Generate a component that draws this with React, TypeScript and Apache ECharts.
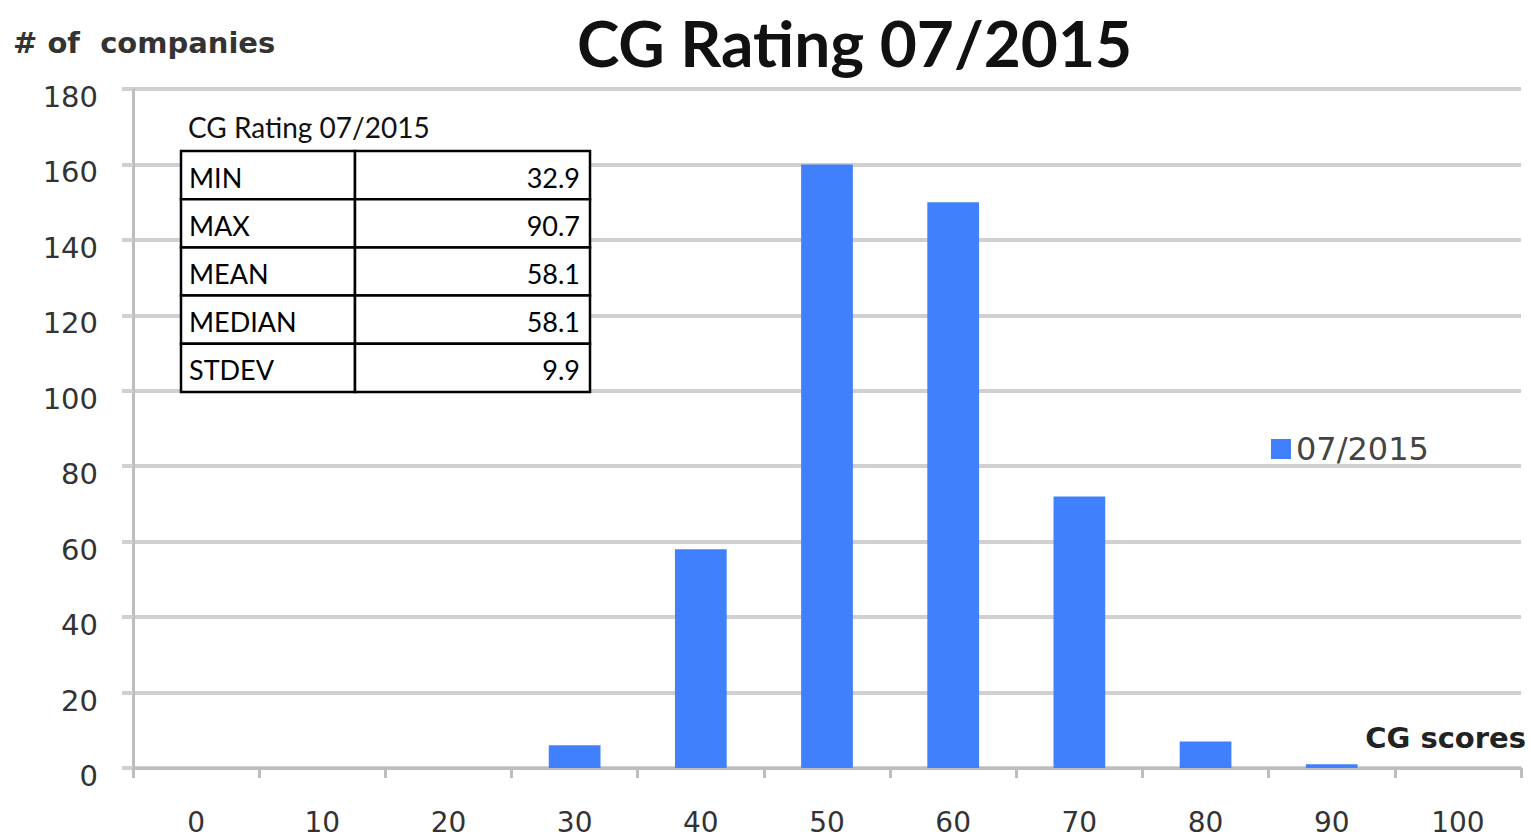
import React, { useEffect, useRef } from "react";
import * as echarts from "echarts";

const categories = ["0", "10", "20", "30", "40", "50", "60", "70", "80", "90", "100"];
const counts = [0, 0, 0, 6, 58, 160, 150, 72, 7, 1, 0];
const seriesName = "07/2015";
const statLabels = ["MIN", "MAX", "MEAN", "MEDIAN", "STDEV"];
const statValues = ["32.9", "90.7", "58.1", "58.1", "9.9"];
const tableTitle = "CG Rating 07/2015";

export default function App() {
  const ref = useRef<HTMLDivElement>(null);
  useEffect(() => {
    if (!ref.current) return;
    const chart = echarts.init(ref.current, null, { renderer: "svg" });
    const tx = 181, ty = 151, c1 = 174, c2 = 235, rh = 48.2;
    const tableEls: any[] = [];
    tableEls.push({
      type: "text", x: 188, y: 127, z: 100,
      style: { text: tableTitle, font: '28px "Lato"', fill: "#111", textVerticalAlign: "middle" },
    });
    statLabels.forEach((lab, i) => {
      const y = ty + i * rh;
      tableEls.push({ type: "rect", z: 100, shape: { x: tx, y, width: c1, height: rh }, style: { fill: "#fff", stroke: "#000", lineWidth: 2.5 } });
      tableEls.push({ type: "rect", z: 100, shape: { x: tx + c1, y, width: c2, height: rh }, style: { fill: "#fff", stroke: "#000", lineWidth: 2.5 } });
      tableEls.push({ type: "text", z: 101, x: tx + 8, y: y + rh / 2 + 2, style: { text: lab, font: '27px "Lato"', fill: "#000", textVerticalAlign: "middle" } });
      tableEls.push({ type: "text", z: 101, x: tx + c1 + c2 - 10, y: y + rh / 2 + 2, style: { text: statValues[i], font: '27px "Lato"', fill: "#000", textAlign: "right", textVerticalAlign: "middle" } });
    });
    chart.setOption({
      animation: false,
      title: {
        text: "CG Rating 07/2015",
        left: 572, top: 5,
        textStyle: { fontFamily: "Lato", fontWeight: "bold", fontSize: 64, color: "#111" },
      },
      legend: {
        data: [seriesName],
        left: 1266, top: 428,
        icon: "rect", itemWidth: 20, itemHeight: 20, itemGap: 8,
        textStyle: { fontFamily: "DejaVu Sans", fontSize: 32, color: "#444", padding: [8, 0, 0, 0] },
      },
      grid: { left: 133, right: 10, top: 89, bottom: 72, containLabel: false },
      xAxis: {
        type: "category",
        data: categories,
        name: "CG scores",
        nameLocation: "end",
        nameGap: 0,
        nameTextStyle: { fontFamily: "DejaVu Sans", fontWeight: "bold", fontSize: 29, color: "#222", align: "right", verticalAlign: "bottom", padding: [0, -5, 16, 0] },
        axisLine: { lineStyle: { color: "#bdbdbd", width: 3 } },
        axisTick: { show: true, alignWithLabel: false, length: 10, lineStyle: { color: "#bdbdbd", width: 3 } },
        axisLabel: { margin: 40, fontFamily: "DejaVu Sans", fontSize: 28, color: "#333" },
      },
      yAxis: {
        type: "value",
        min: 0, max: 180, interval: 20,
        name: "# of  companies",
        nameLocation: "end",
        nameGap: 0,
        nameTextStyle: { fontFamily: "DejaVu Sans", fontWeight: "bold", fontSize: 29, color: "#333", align: "left", padding: [0, 0, 32, -120] },
        axisLine: { show: true, lineStyle: { color: "#bdbdbd", width: 3 } },
        axisTick: { show: true, length: 11, lineStyle: { color: "#d0d0d0", width: 4 } },
        splitLine: { lineStyle: { color: "#d0d0d0", width: 4 } },
        axisLabel: { margin: 35, fontFamily: "DejaVu Sans", fontSize: 29, color: "#333", verticalAlign: "top", lineHeight: 16 },
      },
      series: [
        {
          name: seriesName,
          type: "bar",
          data: counts,
          barWidth: "41%",
          itemStyle: { color: "#4080fc" },
        },
      ],
      graphic: [{ type: "group", z: 100, children: tableEls }],
    });
    return () => chart.dispose();
  }, []);
  return <div ref={ref} style={{ position: "fixed", left: 0, top: 0, width: 1531, height: 840, background: "#fff" }} />;
}
